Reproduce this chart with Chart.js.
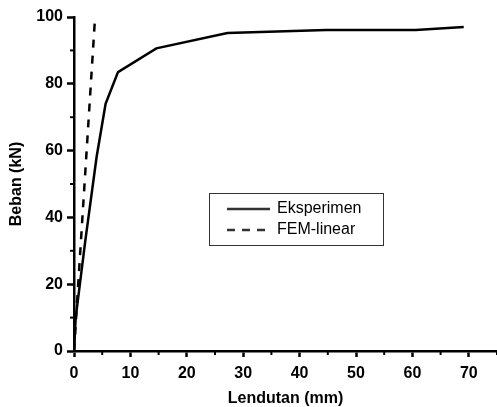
<!DOCTYPE html>
<html>
<head>
<meta charset="utf-8">
<script src="https://cdn.jsdelivr.net/npm/chart.js@4.4.1/dist/chart.umd.min.js"></script>
<style>
  html, body { margin: 0; padding: 0; background: #fff; }
  #wrap { width: 497px; height: 407px; position: relative; }
</style>
</head>
<body>
<div id="wrap"><canvas id="c"></canvas></div>
<script>
/* ====== Data ====== */
const eksX = [0, 0.3, 2, 4, 5.6, 7.8, 14.6, 27.2, 44.7, 60.6, 69.1];
const eksY = [0, 10, 33, 58, 74, 83.5, 90.6, 95.2, 96.1, 96.1, 97.0];
const femX = [0, 3.7];
const femY = [0, 99];

const seriesNames = ["Eksperimen", "FEM-linear"];
const xMinorTicks = [5, 15, 25, 35, 45, 55, 65, 75];
const yMinorTicks = [10, 30, 50, 70, 90];

const toPts = (xs, ys) => xs.map((x, i) => ({ x: x, y: ys[i] }));

/* ====== Minor ticks + inside legend ====== */
const extras = {
  id: "extras",
  afterDraw(chart) {
    const ctx = chart.ctx;
    const xs = chart.scales.x, ys = chart.scales.y;
    ctx.save();
    ctx.strokeStyle = "#000";
    ctx.lineWidth = 2;
    xMinorTicks.forEach(v => {
      const px = xs.getPixelForValue(v);
      ctx.beginPath();
      ctx.moveTo(px, xs.top);
      ctx.lineTo(px, xs.top + 4);
      ctx.stroke();
    });
    yMinorTicks.forEach(v => {
      const py = ys.getPixelForValue(v);
      ctx.beginPath();
      ctx.moveTo(ys.right, py);
      ctx.lineTo(ys.right - 4, py);
      ctx.stroke();
    });

    // legend box
    ctx.lineWidth = 1;
    ctx.strokeStyle = "#333";
    ctx.strokeRect(209.5, 193.5, 174, 52);
    ctx.font = "16px Arial, 'Liberation Sans', sans-serif";
    ctx.fillStyle = "#000";
    ctx.textBaseline = "middle";
    const rows = [209, 230];
    rows.forEach((y, i) => {
      ctx.beginPath();
      ctx.lineWidth = 2.5;
      ctx.setLineDash(i === 0 ? [] : [8, 7]);
      ctx.moveTo(227, y);
      ctx.lineTo(270, y);
      ctx.stroke();
      ctx.setLineDash([]);
      ctx.fillText(seriesNames[i], 277, y);
    });
    ctx.restore();
  }
};

const tickFont = { family: "Arial, 'Liberation Sans', sans-serif", size: 16, weight: "bold" };
const titleFont = { family: "Arial, 'Liberation Sans', sans-serif", size: 16, weight: "bold", lineHeight: 1 };

new Chart(document.getElementById("c"), {
  type: "scatter",
  data: {
    datasets: [
      {
        label: seriesNames[0],
        data: toPts(eksX, eksY),
        showLine: true,
        borderColor: "#000",
        borderWidth: 2.5,
        pointRadius: 0,
        tension: 0
      },
      {
        label: seriesNames[1],
        data: toPts(femX, femY),
        showLine: true,
        borderColor: "#000",
        borderWidth: 2.5,
        borderDash: [8, 8],
        pointRadius: 0
      }
    ]
  },
  options: {
    responsive: true,
    maintainAspectRatio: false,
    animation: false,
    layout: { padding: { top: 17, right: 0, left: 0, bottom: 0 } },
    plugins: { legend: { display: false }, tooltip: { enabled: false } },
    scales: {
      x: {
        type: "linear",
        min: 0,
        max: 75,
        afterBuildTicks: s => { s.ticks = s.ticks.filter(t => t.value % 10 === 0); },
        afterFit: s => { s.height = 56; },
        ticks: { stepSize: 10, color: "#000", font: tickFont, padding: 7, maxRotation: 0 },
        grid: { display: true, drawOnChartArea: false, drawTicks: true, tickLength: 6, tickWidth: 2.5, color: "#000" },
        border: { display: true, color: "#000", width: 2.5 },
        title: { display: true, text: "Lendutan (mm)", color: "#000", font: titleFont, padding: { top: 2, bottom: 0 } }
      },
      y: {
        type: "linear",
        min: 0,
        max: 100,
        afterBuildTicks: s => { s.ticks = s.ticks.filter(t => t.value % 20 === 0); },
        afterFit: s => { s.width = 74; },
        ticks: { stepSize: 20, color: "#000", font: tickFont, padding: 4 },
        grid: { display: true, drawOnChartArea: false, drawTicks: true, tickLength: 7, tickWidth: 2.5, color: "#000" },
        border: { display: true, color: "#000", width: 2.5 },
        title: { display: true, text: "Beban (kN)", color: "#000", font: titleFont, padding: { top: 9, bottom: 2 } }
      }
    }
  },
  plugins: [extras]
});
</script>
</body>
</html>
